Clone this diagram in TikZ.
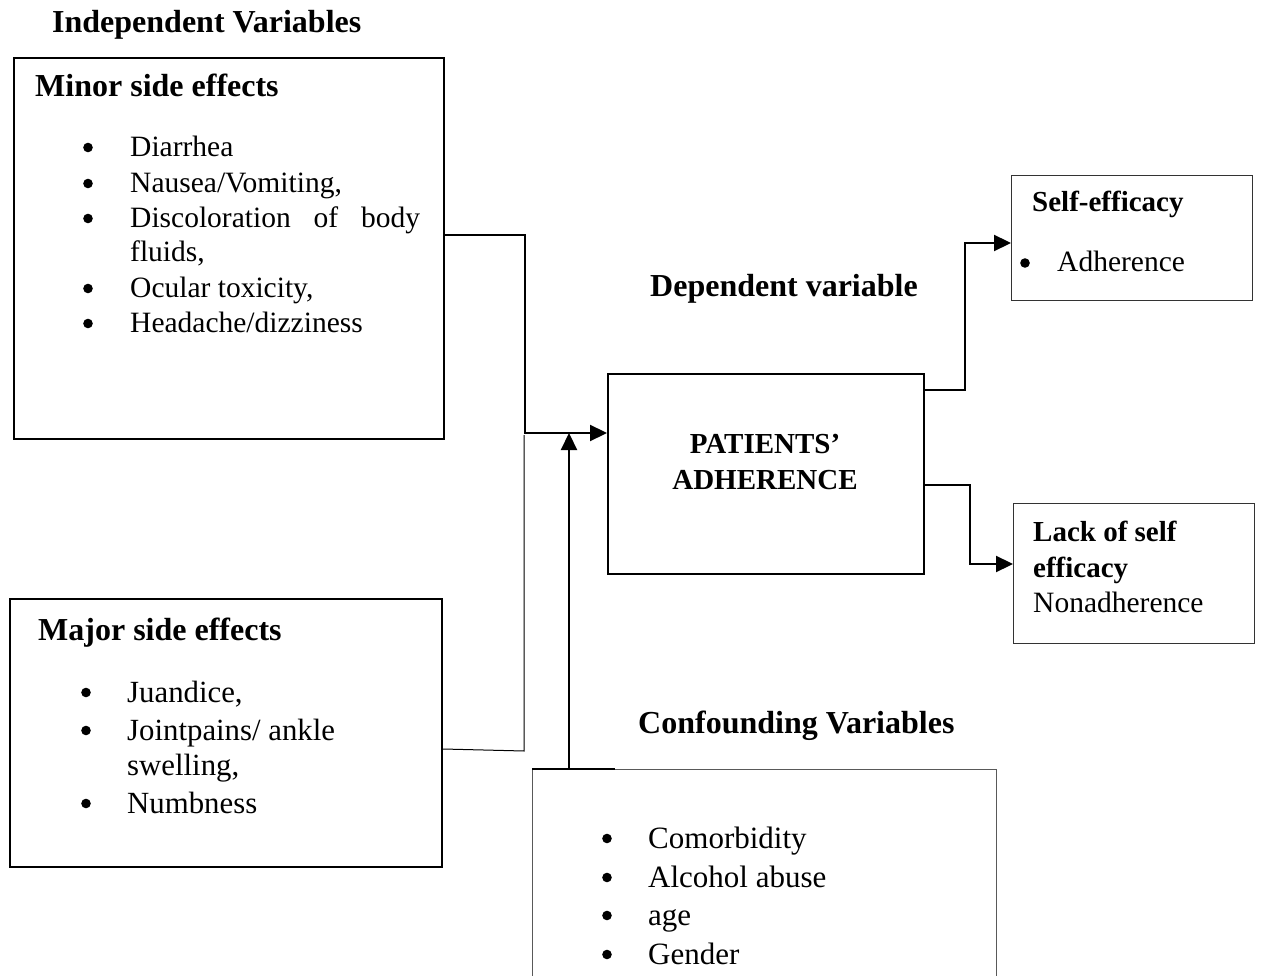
\documentclass[tikz,border=0pt]{standalone}
\usepackage{fontspec}
\setmainfont{Liberation Serif}
\usetikzlibrary{arrows.meta}
\begin{document}
\begin{tikzpicture}[x=1pt,y=-1pt,
  box/.style={draw, line width=2pt, rectangle, inner sep=0pt, anchor=north west},
  thinbox/.style={draw=black!80, line width=1.3pt, rectangle, inner sep=0pt, anchor=north west},
  txt/.style={inner sep=0pt, anchor=base west, font=\fontsize{29.5}{35}\selectfont},
  ctxt/.style={inner sep=0pt, anchor=base west, font=\fontsize{31}{37}\selectfont},
  head/.style={inner sep=0pt, anchor=base west, font=\fontsize{32}{38}\selectfont\bfseries},
  shead/.style={inner sep=0pt, anchor=base west, font=\fontsize{29}{35}\selectfont\bfseries},
  arr/.style={line width=2.2pt, -{Triangle[length=17pt,width=16pt]}},
  thinconn/.style={line width=1pt}
]
\newcommand{\bulletdot}[1]{\fill[black] #1 circle[radius=4.8pt];}
\useasboundingbox (0,0) rectangle (1261,976);
\clip (0,0) rectangle (1261,976);
\fill[white] (0,0) rectangle (1261,976);

% Titles
\node[head] (tindep) at (52,33) {Independent Variables};
\node[head] (tdep) at (650,297) {Dependent variable};
\node[head] (tconf) at (638,733) {Confounding Variables};

% Minor side effects box
\node[box, minimum width=430pt, minimum height=381pt] (minor) at (13,57) {};
\node[head] (minorh) at (35,97) {Minor side effects};
\bulletdot{(88,147.5)}
\node[txt] (m1) at (130,157) {Diarrhea};
\bulletdot{(88,183.5)}
\node[txt] (m2) at (130,193) {Nausea/Vomiting,};
\bulletdot{(88,218.5)}
\node[txt] (m3) at (130,228) {\makebox[290pt][s]{Discoloration\hfill of\hfill body}};
\node[txt] (m3b) at (130,262) {fluids,};
\bulletdot{(88,288.5)}
\node[txt] (m4) at (130,298) {Ocular toxicity,};
\bulletdot{(88,323.5)}
\node[txt] (m5) at (130,333) {Headache/dizziness};

% Major side effects box
\node[box, minimum width=432pt, minimum height=268pt] (major) at (9,598) {};
\node[head] (majorh) at (38,640) {Major side effects};
\bulletdot{(86,692.5)}
\node[txt, font=\fontsize{30.8}{37}\selectfont] (j1) at (127,702) {Juandice,};
\bulletdot{(86,730.5)}
\node[txt, font=\fontsize{30.8}{37}\selectfont] (j2) at (127,740) {Jointpains/ ankle};
\node[txt, font=\fontsize{30.8}{37}\selectfont] (j2b) at (127,775) {swelling,};
\bulletdot{(86,803.5)}
\node[txt, font=\fontsize{30.8}{37}\selectfont] (j3) at (127,813) {Numbness};

% Patients' adherence box
\node[box, minimum width=316pt, minimum height=200pt] (pat) at (607,373) {};
\node[inner sep=0pt, anchor=base, font=\fontsize{29}{35}\selectfont\bfseries] (p1) at (765,453) {PATIENTS’};
\node[inner sep=0pt, anchor=base, font=\fontsize{29}{35}\selectfont\bfseries] (p2) at (765,489) {ADHERENCE};

% Self-efficacy box
\node[thinbox, minimum width=241pt, minimum height=125pt] (self) at (1011,175) {};
\node[shead] (selfh) at (1032,212) {Self-efficacy};
\bulletdot{(1025,263)}
\node[txt] (s1) at (1057,272) {Adherence};

% Lack of self efficacy box
\node[thinbox, minimum width=241pt, minimum height=140pt] (lack) at (1013,503) {};
\node[shead] (lackh1) at (1033,541) {Lack of self};
\node[shead] (lackh2) at (1033,577) {efficacy};
\node[txt] (lack1) at (1033,612) {Nonadherence};

% Confounding box (runs past the bottom edge)
\node[draw=black!65, line width=1pt, rectangle, inner sep=0pt, anchor=north west,
      minimum width=464pt, minimum height=240pt] (conf) at (532,769) {};
\draw[line width=1.3pt] (conf.north west) -- ++(83,0);
\bulletdot{(607,838.5)}
\node[ctxt] (c1) at (648,848) {Comorbidity};
\bulletdot{(607,877.5)}
\node[ctxt] (c2) at (648,887) {Alcohol abuse};
\bulletdot{(607,915.5)}
\node[ctxt] (c3) at (648,925) {age};
\bulletdot{(607,954.5)}
\node[ctxt] (c4) at (648,964) {Gender};

% Connectors
\coordinate (mturn) at (525,235);
\coordinate (join) at (525,433);
\coordinate (jturn) at (524,751);
\coordinate (jtop) at (524,435);
\coordinate (ctop) at (569,769);
\coordinate (up1) at (965,390);
\coordinate (up2) at (965,243);
\coordinate (dn1) at (970,485);
\coordinate (dn2) at (970,564);

\draw[arr] (minor.east |- mturn) -- (mturn) -- (join) -- (pat.west |- join);
\draw[thinconn] (major.east |- 0,749) -- (jturn) -- (jtop);
\draw[arr] (ctop) -- (569,433);
\draw[arr] (pat.east |- up1) -- (up1) -- (up2) -- (self.west |- up2);
\draw[arr] (pat.east |- dn1) -- (dn1) -- (dn2) -- (lack.west |- dn2);
\end{tikzpicture}
\end{document}
